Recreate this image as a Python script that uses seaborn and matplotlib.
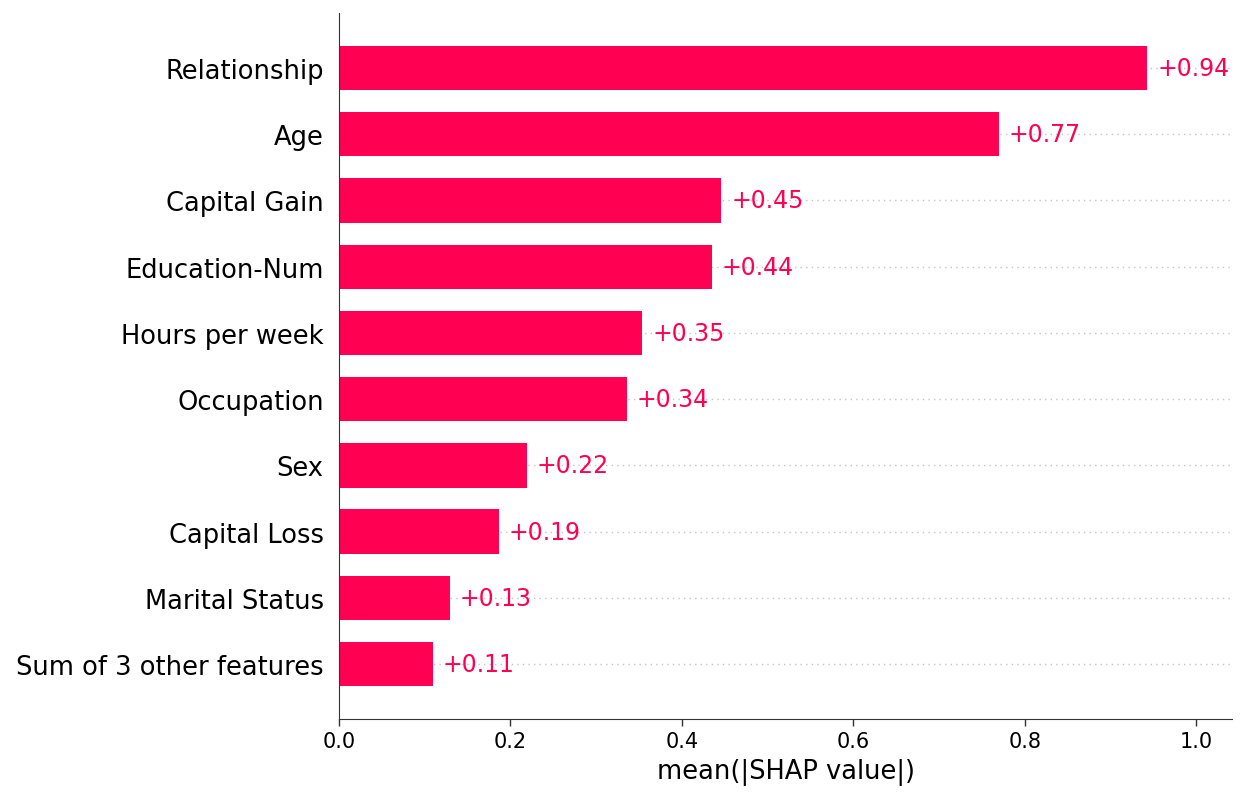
import matplotlib
matplotlib.use("Agg")
import matplotlib.pyplot as plt
import pandas as pd
import seaborn as sns

# mean(|SHAP value|) per feature
features = ["Relationship", "Age", "Capital Gain", "Education-Num", "Hours per week",
            "Occupation", "Sex", "Capital Loss", "Marital Status", "Sum of 3 other features"]
shap_mean = [0.943, 0.770, 0.446, 0.435, 0.354, 0.336, 0.219, 0.187, 0.129, 0.110]
value_labels = ["+0.94", "+0.77", "+0.45", "+0.44", "+0.35",
                "+0.34", "+0.22", "+0.19", "+0.13", "+0.11"]

red = "#ff0052"
data = pd.DataFrame({"feature": features, "value": shap_mean})

sns.set_style("white")
plt.rcParams["font.family"] = ["DejaVu Sans"]

fig = plt.figure(figsize=(12.46, 8.04), dpi=100)
ax = fig.add_axes([0.272, 0.1045, 0.717, 0.878])

# dotted guide rows behind the bars
for i in range(len(features)):
    ax.axhline(i, color="#c4c4c4", lw=1.0, dashes=(1, 3), zorder=-1)

sns.barplot(data=data, x="value", y="feature", orient="h", color=red,
            saturation=1, width=0.67, linewidth=0, ax=ax, zorder=2)

for i, (v, lab) in enumerate(zip(shap_mean, value_labels)):
    ax.annotate(lab, xy=(v, i), xytext=(7, 0), textcoords="offset points",
                ha="left", va="center", color=red, fontsize=17)

ax.set_xlim(0, 1.042)
ax.set_ylim(len(features) - 1 + 0.83, -0.83)
ax.set_xticks([0.0, 0.2, 0.4, 0.6, 0.8, 1.0])
ax.set_xlabel("mean(|SHAP value|)", fontsize=18.5, color="black", labelpad=5)
ax.set_ylabel("")

ax.spines["top"].set_visible(False)
ax.spines["right"].set_visible(False)
ax.spines["left"].set_color("#333333")
ax.spines["bottom"].set_color("#333333")
ax.tick_params(axis="y", length=0, labelsize=18.5, labelcolor="black", pad=11)
ax.tick_params(axis="x", length=5, width=1, color="#333333", labelsize=15,
               labelcolor="black", bottom=True)

fig.savefig("out.png", dpi=100)
